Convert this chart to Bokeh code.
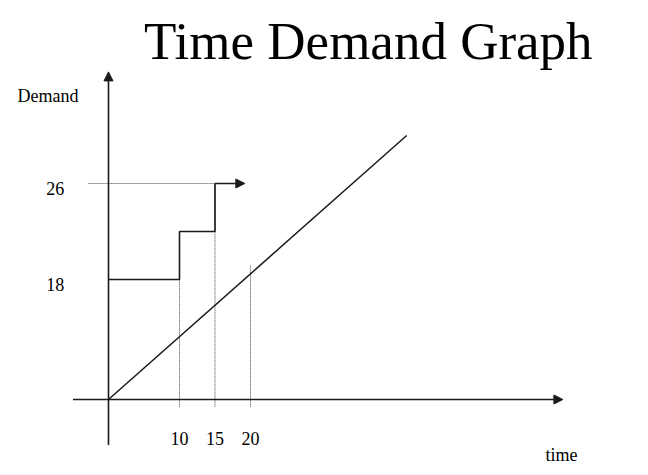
from bokeh.plotting import figure
from bokeh.models import Arrow, NormalHead, Range1d
from bokeh.embed import file_html
from bokeh.resources import INLINE
from bokeh.core.properties import value

# ---- data ----
title_text = "Time Demand Graph"
x_label = "time"
y_label = "Demand"
time_ticks = [10, 15, 20]
demand_ticks = [18, 26]
step_time = [0, 10, 10, 15, 15]
step_demand = [18, 18, 22, 22, 26]
step_end_time = 19.2
capacity_time = [0, 42]
capacity_demand = [8, 30]
axis_base = 8            # demand level where the time axis is drawn
marker_time = [10, 15, 20]
marker_top = [22, 26, 19.2]

FONT = value("Liberation Serif")
INK = "#1a1a1a"

p = figure(width=640, height=470, output_backend="svg", toolbar_location=None,
           x_range=Range1d(-15.21, 74.93), y_range=Range1d(2.083, 41.25),
           min_border=0)
p.axis.visible = False
p.grid.visible = False
p.outline_line_color = None
p.background_fill_color = "white"

# axes with arrows
p.add_layout(Arrow(end=NormalHead(size=9, fill_color=INK, line_color=INK),
                   x_start=0, y_start=4.2, x_end=0, y_end=35.3,
                   line_color=INK, line_width=1.6))
p.add_layout(Arrow(end=NormalHead(size=9, fill_color=INK, line_color=INK),
                   x_start=-5, y_start=axis_base, x_end=64, y_end=axis_base,
                   line_color=INK, line_width=1.6))

# dotted guide lines
p.segment(x0=[-2.8], y0=[demand_ticks[1]], x1=[step_time[-1]], y1=[demand_ticks[1]],
          line_color="#444", line_width=1, line_dash="1 1")
p.segment(x0=marker_time, y0=[axis_base - 0.6] * 3, x1=marker_time, y1=marker_top,
          line_color="#444", line_width=1, line_dash="1 1")

# capacity line
p.line(capacity_time, capacity_demand, line_color=INK, line_width=1.5)

# demand step function
p.line(step_time, step_demand, line_color=INK, line_width=1.6)
p.add_layout(Arrow(end=NormalHead(size=9, fill_color=INK, line_color=INK),
                   x_start=step_time[-1], y_start=step_demand[-1],
                   x_end=step_end_time, y_end=step_demand[-1],
                   line_color=INK, line_width=1.6))

# texts
p.text(x=[36.6], y=[37.9], text=[title_text], text_font=FONT, text_font_size="53px",
       text_align="center", text_baseline="middle", text_color="black")
p.text(x=[-12.8], y=[33.3], text=[y_label], text_font=FONT, text_font_size="18px",
       text_align="left", text_baseline="middle", text_color="black")
p.text(x=[-7.5, -7.5], y=[d - 0.4 for d in demand_ticks], text=[str(d) for d in demand_ticks],
       text_font=FONT, text_font_size="18px", text_align="center", text_baseline="middle",
       text_color="black")
p.text(x=time_ticks, y=[4.75] * 3, text=[str(t) for t in time_ticks], text_font=FONT,
       text_font_size="18px", text_align="center", text_baseline="middle", text_color="black")
p.text(x=[63.8], y=[3.35], text=[x_label], text_font=FONT, text_font_size="18px",
       text_align="center", text_baseline="middle", text_color="black")

open("out.html", "w").write(file_html(p, INLINE))
